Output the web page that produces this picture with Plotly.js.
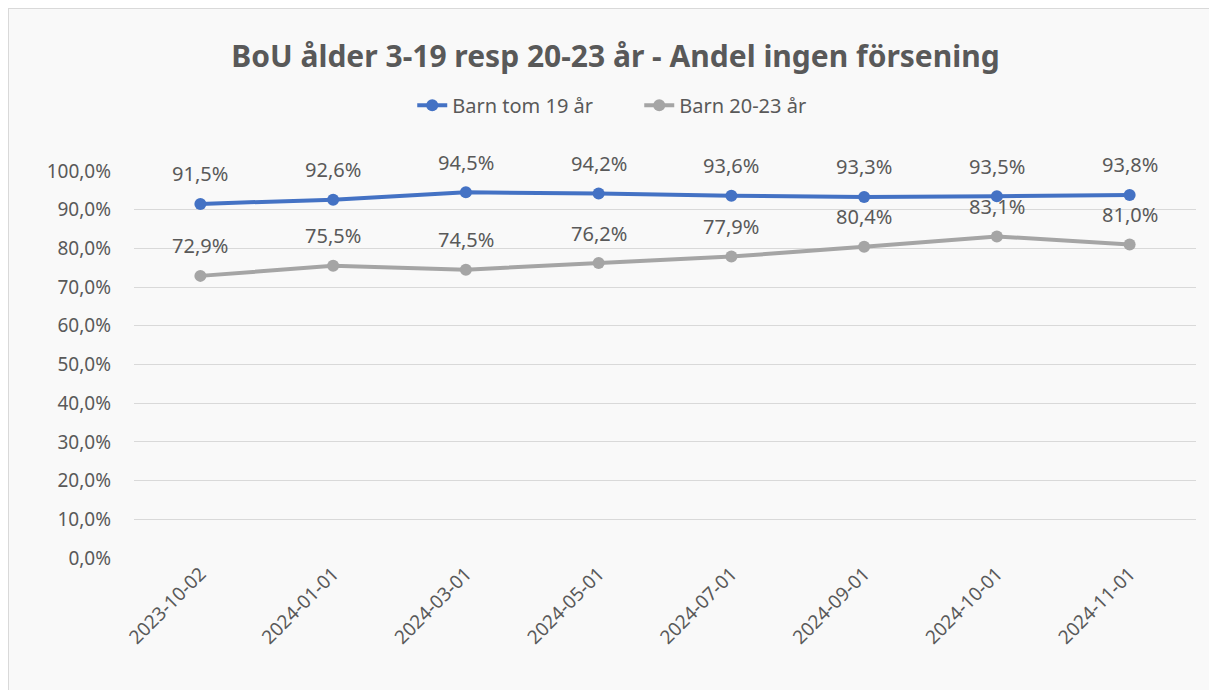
<!DOCTYPE html>
<html>
<head>
<meta charset="utf-8">
<script src="https://cdn.plot.ly/plotly-3.0.1.min.js"></script>
<style>
  body { margin: 0; background: #ffffff; }
  #chart { position: absolute; left: 8px; top: 8px; width: 1201px; height: 682px;
           border-left: 1px solid #d9d9d9; border-top: 1px solid #d9d9d9; box-sizing: border-box; }
</style>
</head>
<body>
<div id="chart"></div>
<script>
// data
var dates = ['2023-10-02', '2024-01-01', '2024-03-01', '2024-05-01',
             '2024-07-01', '2024-09-01', '2024-10-01', '2024-11-01'];
var barnTom19 = [91.5, 92.6, 94.5, 94.2, 93.6, 93.3, 93.5, 93.8];
var barn20_23 = [72.9, 75.5, 74.5, 76.2, 77.9, 80.4, 83.1, 81.0];
var yTicks = [0, 10, 20, 30, 40, 50, 60, 70, 80, 90, 100];

function pct(v) {
    return v.toFixed(1).replace('.', ',') + '%';
}

var fontName = 'Noto Sans, sans-serif';
var textGrey = '#595959';

var trace1 = {
    x: dates,
    y: barnTom19,
    name: 'Barn tom 19 år',
    mode: 'lines+markers',
    line: { color: '#4472C4', width: 4 },
    marker: { color: '#4472C4', size: 12 }
};

var trace2 = {
    x: dates,
    y: barn20_23,
    name: 'Barn 20-23 år',
    mode: 'lines+markers',
    line: { color: '#A5A5A5', width: 4 },
    marker: { color: '#A5A5A5', size: 12 }
};

// data labels above points
var annotations = [];
[barnTom19, barn20_23].forEach(function (series) {
    series.forEach(function (v, i) {
        annotations.push({
            x: dates[i], y: v, text: pct(v),
            showarrow: false, yshift: 30,
            font: { family: fontName, size: 20, color: textGrey }
        });
    });
});

var layout = {
    width: 1201,
    height: 682,
    paper_bgcolor: '#f9f9f9',
    plot_bgcolor: '#f9f9f9',
    margin: { l: 125, r: 14, t: 162, b: 133 },
    title: {
        text: '<b>BoU ålder 3-19 resp 20-23 år - Andel ingen försening</b>',
        font: { family: fontName, size: 30, color: textGrey },
        x: 0.505, xanchor: 'center', y: 0.93, yanchor: 'middle'
    },
    showlegend: true,
    legend: {
        orientation: 'h', x: 0.262, xanchor: 'left', y: 1.17, yanchor: 'middle',
        entrywidth: 182,
        font: { family: fontName, size: 20, color: textGrey },
        bgcolor: 'rgba(0,0,0,0)'
    },
    xaxis: {
        type: 'category',
        range: [-0.5, 7.5],
        tickangle: -45,
        showgrid: false,
        zeroline: false,
        showline: false,
        ticks: '',
        tickfont: { family: fontName, size: 19, color: textGrey }
    },
    yaxis: {
        range: [0, 100],
        tickvals: yTicks,
        ticktext: yTicks.map(pct),
        gridcolor: '#d9d9d9',
        gridwidth: 1,
        zeroline: false,
        showline: false,
        ticks: '',
        ticklabelstandoff: 22,
        tickfont: { family: fontName, size: 19, color: textGrey }
    },
    annotations: annotations
};

Plotly.newPlot('chart', [trace1, trace2], layout, { displayModeBar: false });
</script>
</body>
</html>
